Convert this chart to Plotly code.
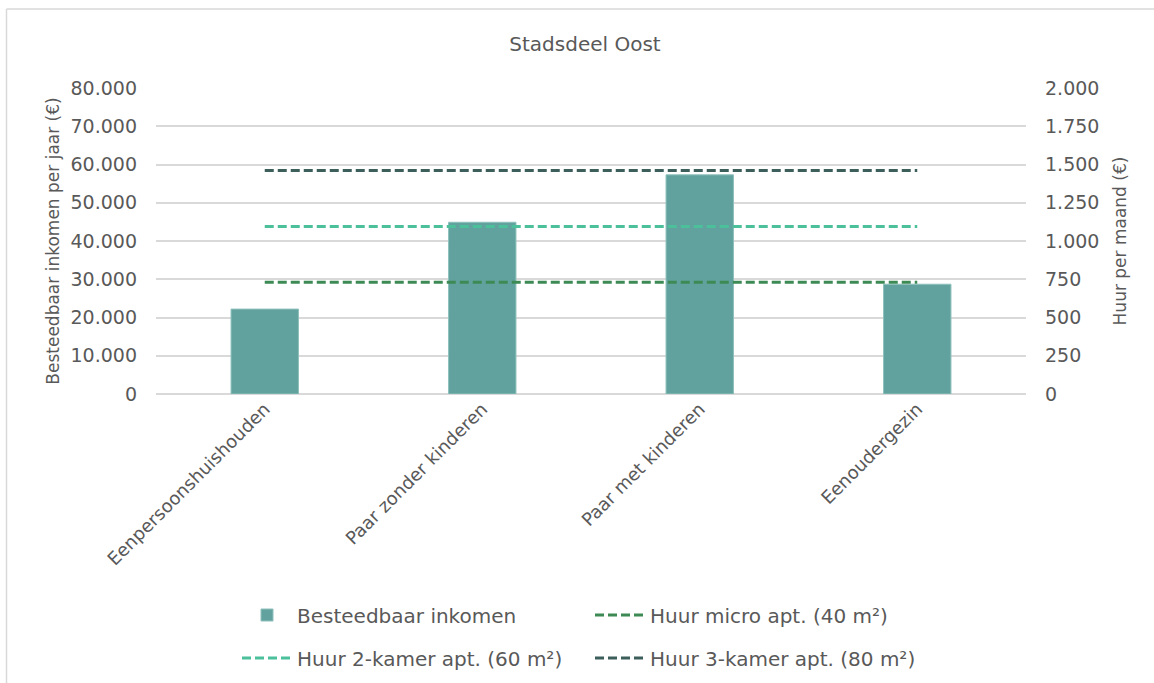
import plotly.graph_objects as go

# Household types and disposable yearly income (EUR)
categories = ["Eenpersoonshuishouden", "Paar zonder kinderen", "Paar met kinderen", "Eenoudergezin"]
inkomen = [22200, 44900, 57300, 28700]

# Monthly rents (EUR) per apartment type
huur_micro = 730
huur_2kamer = 1095
huur_3kamer = 1460

left_ticks = [0, 10000, 20000, 30000, 40000, 50000, 60000, 70000, 80000]
right_ticks = [0, 250, 500, 750, 1000, 1250, 1500, 1750, 2000]

W, H = 1154, 683
L, R, T, B = 156, 128, 88, 289
PW, PH = W - L - R, H - T - B

FONT = "DejaVu Sans"
TXT = "#595959"
GRID = "#D9D9D9"


def px_x(px):
    return (px - L) / PW


def px_y(py):
    return (H - B - py) / PH


fig = go.Figure()

fig.add_trace(go.Bar(
    x=categories, y=inkomen, name="Besteedbaar inkomen",
    marker=dict(color="#62A29E", line=dict(color="#8EC0BC", width=1)),
    width=0.31, legend="legend",
))

lines = [
    ("Huur micro apt. (40 m²)", huur_micro, "#3D8A55", "legend"),
    ("Huur 2-kamer apt. (60 m²)", huur_2kamer, "#4CC09B", "legend2"),
    ("Huur 3-kamer apt. (80 m²)", huur_3kamer, "#3D5F5C", "legend2"),
]
for name, val, col, lg in lines:
    fig.add_trace(go.Scatter(
        x=categories, y=[val] * len(categories), name=name, mode="lines",
        line=dict(color=col, width=3, dash="9px,4px"), yaxis="y2", legend=lg,
    ))

legend_common = dict(orientation="h", xanchor="left", yanchor="middle",
                     entrywidth=288, entrywidthmode="pixels", itemwidth=50,
                     font=dict(size=20, color=TXT), bgcolor="rgba(0,0,0,0)")

fig.update_layout(
    width=W, height=H,
    margin=dict(l=L, r=R, t=T, b=B, autoexpand=False),
    paper_bgcolor="white", plot_bgcolor="white",
    separators=",.",
    font=dict(family=FONT, color=TXT, size=18),
    title=dict(text="Stadsdeel Oost", x=px_x(585), xref="paper", xanchor="center",
               y=1 - 44 / H, yanchor="middle", font=dict(size=20, color=TXT)),
    xaxis=dict(type="category", tickangle=-45, showgrid=False, showline=False,
               ticks="", tickfont=dict(size=18, color=TXT), automargin=False),
    yaxis=dict(range=[0, 80000], tickvals=left_ticks, tickformat=",.0f",
               showgrid=True, gridcolor=GRID, gridwidth=2, zeroline=True,
               zerolinecolor=GRID, zerolinewidth=2, showline=False, ticks="",
               ticklabelstandoff=18, tickfont=dict(size=19, color=TXT),
               title=dict(text="Besteedbaar inkomen per jaar (€)", standoff=6,
                          font=dict(size=17, color=TXT)),
               automargin=False),
    yaxis2=dict(range=[0, 2000], tickvals=right_ticks, tickformat=",.0f",
                overlaying="y", side="right", showgrid=False, zeroline=False,
                showline=False, ticks="", ticklabelstandoff=18,
                tickfont=dict(size=19, color=TXT),
                title=dict(text="Huur per maand (€)", standoff=15,
                           font=dict(size=17, color=TXT)),
                automargin=False),
    legend=dict(x=px_x(237), y=px_y(615), **legend_common),
    legend2=dict(x=px_x(237), y=px_y(658), **legend_common),
    showlegend=True,
    shapes=[
        dict(type="line", xref="paper", yref="paper", x0=px_x(6.5), x1=px_x(1160),
             y0=px_y(9), y1=px_y(9), line=dict(color=GRID, width=1.5)),
        dict(type="line", xref="paper", yref="paper", x0=px_x(6.5), x1=px_x(6.5),
             y0=px_y(9), y1=px_y(690), line=dict(color=GRID, width=1.5)),
    ],
)

fig.write_html("out.html")
